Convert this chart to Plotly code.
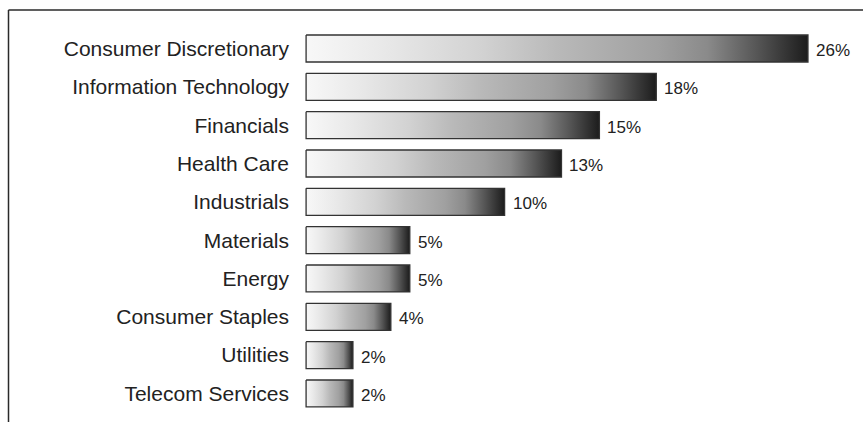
import plotly.graph_objects as go

# Sector weights (percent of portfolio)
sectors = [
    "Consumer Discretionary",
    "Information Technology",
    "Financials",
    "Health Care",
    "Industrials",
    "Materials",
    "Energy",
    "Consumer Staples",
    "Utilities",
    "Telecom Services",
]
weights = [26, 18, 15, 13, 10, 5, 5, 4, 2, 2]

W, H = 863, 422
MARGIN_L, MARGIN_T = 296, 10
PX_PER_UNIT_X = 18.96      # pixels per percentage point
ZERO_PX = 315              # x pixel of the 0% position
ROW_PX = 38.33             # pixels between bar centres
FIRST_ROW_PX = 48.5        # y pixel of the first bar centre
BAR_HALF = 0.352           # half bar thickness in row units
BAR_BASE = -0.47           # bars start slightly left of zero

GRADIENT = [
    [0.0, "#f8f8f8"],
    [0.15, "#e9e9e9"],
    [0.35, "#d2d2d2"],
    [0.5, "#b9b9b9"],
    [0.7, "#a0a0a0"],
    [0.8, "#8a8a8a"],
    [0.9, "#555555"],
    [1.0, "#1c1c1c"],
]

fig = go.Figure()

for i, (name, v) in enumerate(zip(sectors, weights)):
    y0, y1 = i - BAR_HALF, i + BAR_HALF
    fig.add_trace(go.Scatter(
        x=[BAR_BASE, v, v, BAR_BASE, BAR_BASE],
        y=[y0, y0, y1, y1, y0],
        mode="lines",
        fill="toself",
        fillgradient=dict(type="horizontal", colorscale=GRADIENT),
        line=dict(color="#333333", width=1.3),
        hoverinfo="skip",
        showlegend=False,
        name=name,
    ))

# value labels to the right of each bar
annotations = [
    dict(
        x=v, y=i, xref="x", yref="y",
        text=f"{v}%",
        showarrow=False,
        xanchor="left", yanchor="middle",
        xshift=6, yshift=-2,
        font=dict(family="Liberation Sans, Arial, sans-serif",
                  size=17, color="#222222"),
    )
    for i, v in enumerate(weights)
]

plot_w = W - MARGIN_L
plot_h = H - MARGIN_T
x_lo = (MARGIN_L - ZERO_PX) / PX_PER_UNIT_X
x_hi = (W - ZERO_PX) / PX_PER_UNIT_X
y_top = -(FIRST_ROW_PX - MARGIN_T) / ROW_PX
y_bot = y_top + plot_h / ROW_PX
frame_x = (8.5 - MARGIN_L) / plot_w

fig.update_layout(
    width=W,
    height=H,
    margin=dict(l=MARGIN_L, r=0, t=MARGIN_T, b=0, pad=0),
    paper_bgcolor="white",
    plot_bgcolor="white",
    xaxis=dict(range=[x_lo, x_hi], visible=False, fixedrange=True),
    yaxis=dict(
        range=[y_bot, y_top],
        tickmode="array",
        tickvals=list(range(len(sectors))),
        ticktext=sectors,
        showgrid=False,
        zeroline=False,
        showline=False,
        ticks="",
        ticklabelstandoff=6,
        tickfont=dict(family="Liberation Sans, Arial, sans-serif", size=21, color="#222222"),
        fixedrange=True,
    ),
    annotations=annotations,
    shapes=[
        # frame: top and left edges
        dict(type="line", xref="paper", yref="paper",
             x0=frame_x, x1=1.0, y0=1.0, y1=1.0,
             line=dict(color="#2a2a2a", width=1.5)),
        dict(type="line", xref="paper", yref="paper",
             x0=frame_x, x1=frame_x, y0=0.0, y1=1.0,
             line=dict(color="#2a2a2a", width=1.5)),
    ],
)

fig.write_html("out.html")
